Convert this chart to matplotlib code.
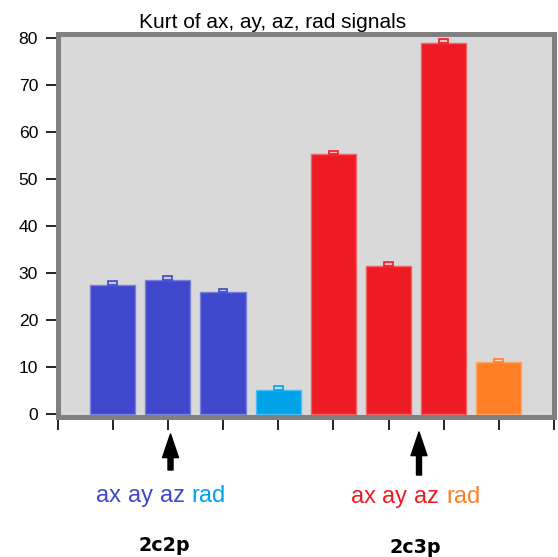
import numpy as np
import matplotlib
matplotlib.use('Agg')
import matplotlib.pyplot as plt
from matplotlib.colors import to_rgb

plt.rcParams['font.family'] = ['Liberation Sans', 'DejaVu Sans']

# kurtosis of the signals
signals = ['ax', 'ay', 'az', 'rad']
configs = ['2c2p', '2c3p']
kurt_2c2p = [27.4, 28.6, 25.9, 5.2]
kurt_2c3p = [55.3, 31.5, 79.0, 11.0]
err_2c2p = [0.8, 0.8, 0.8, 0.7]
err_2c3p = [0.7, 0.8, 0.8, 0.7]

colors_2c2p = ['#3f48cc', '#3f48cc', '#3f48cc', '#00a2e8']
colors_2c3p = ['#ed1c24', '#ed1c24', '#ed1c24', '#ff7f27']

W, H = 558, 557


def lighter(c, f):
    r, g, b = to_rgb(c)
    return (r + (1 - r) * f, g + (1 - g) * f, b + (1 - b) * f)


fig = plt.figure(figsize=(W / 100, H / 100), dpi=100)
ax = fig.add_axes([57.5 / W, (H - 416.5) / H, (554 - 57.5) / W, (416.5 - 34) / H])
ax.set_facecolor('#d9d9d9')

values = kurt_2c2p + kurt_2c3p
errs = err_2c2p + err_2c3p
colors = colors_2c2p + colors_2c3p
x = np.arange(1, len(values) + 1)

ax.bar(x, values, width=0.82, color=colors,
       edgecolor=[lighter(c, 0.3) for c in colors], linewidth=1, zorder=2)
# little open caps on top of the bars
ax.bar(x, errs, bottom=values, width=0.16,
       color=[lighter(c, 0.7) for c in colors], edgecolor=colors,
       linewidth=1.2, zorder=2)

ax.set_xlim(0, 9)
ax.set_ylim(-0.53, 80.85)
ax.set_yticks(range(0, 81, 10))
ax.set_xticks(range(0, 10))
ax.set_xticklabels([])
ax.tick_params(axis='both', direction='out', length=9, width=1.2,
               color='black')
ax.tick_params(axis='y', labelsize=12.6, pad=5)
for sp in ax.spines.values():
    sp.set_linewidth(3.6)
    sp.set_color('#808080')
    sp.set_zorder(3)

fig.text(273 / W, (H - 28) / H, 'Kurt of ax, ay, az, rad signals',
         ha='center', va='baseline', fontsize=15)


def word_row(x0, y0, words, cols, size=17):
    t = fig.text(x0 / W, (H - y0) / H, words[0], color=cols[0],
                 ha='left', va='baseline', fontsize=size)
    for w, c in zip(words[1:], cols[1:]):
        t = ax.annotate(w, xy=(1, 0), xycoords=t, xytext=(5, 0),
                        textcoords='offset points', color=c,
                        ha='left', va='bottom', fontsize=size)


word_row(96, 501.7, signals, colors_2c2p)
word_row(350.5, 503, signals, colors_2c3p)

label_pos = [(164.3, 550.7), (415, 552.7)]
arrow_pos = [(170.5, 434, 470), (419, 432, 475)]
for name, (lx, ly), (axp, tip, tail) in zip(configs, label_pos, arrow_pos):
    fig.text(lx / W, (H - ly) / H, name, ha='center', va='baseline',
             fontsize=13.8, fontweight='bold', family='DejaVu Sans')
    ax.annotate('', xy=(axp, H - tip), xycoords='figure pixels',
                xytext=(axp, H - tail), textcoords='figure pixels',
                arrowprops=dict(arrowstyle='simple,head_length=1.7,'
                                'head_width=1.15,tail_width=0.36',
                                mutation_scale=10, color='black',
                                shrinkA=0, shrinkB=0))

fig.savefig('out.png', dpi=100)
